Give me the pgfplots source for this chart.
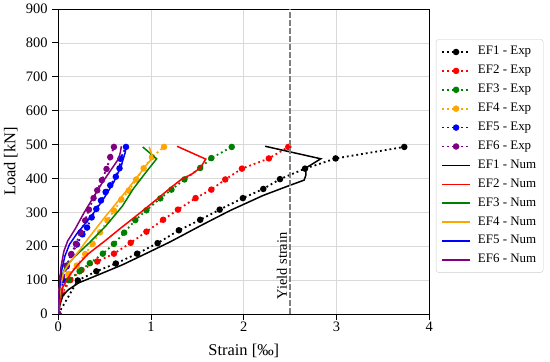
\documentclass[border=0pt]{standalone}
\usepackage{fontspec}
\setmainfont{Liberation Serif}
\usepackage{pgfplots}
\pgfplotsset{compat=1.18}
\definecolor{mplorange}{HTML}{FFA500}
\definecolor{mplgreen}{HTML}{008000}
\definecolor{mplpurple}{HTML}{800080}
\newcommand{\fst}{\fontsize{14.5}{16}\selectfont}
\newcommand{\fsl}{\fontsize{16.5}{18}\selectfont}
\newcommand{\fsg}{\fontsize{13}{15}\selectfont}
\begin{document}
\begin{tikzpicture}
\useasboundingbox (0,0) rectangle (550bp,362bp);
\begin{axis}[
 at={(58.3bp,48bp)}, anchor=south west,
 scale only axis, width=371bp, height=305bp,
 xmin=0,xmax=4,ymin=0,ymax=900,
 xtick={0,1,2,3,4}, ytick={0,100,...,900},
 grid=major, grid style={line width=0.7pt, draw=black!15},
 axis line style={line width=1pt},
 tick align=outside, tick pos=left, major tick length=6bp,
 tick style={line width=1pt, black},
 ticklabel style={font=\fst},
 xticklabel style={inner sep=1.5bp},
 yticklabel style={inner sep=4.5bp},
 /pgf/number format/assume math mode=true,
 xlabel={Strain [‰]}, ylabel={Load [kN]},
 label style={font=\fsl},
 xlabel style={at={(axis description cs:0.5,0)}, anchor=base, yshift=-41bp},
 ylabel style={at={(axis description cs:-0.1156,0.5)}, anchor=base},
 clip marker paths=true,
 legend style={at={(1.018,0.9007)}, anchor=north west, draw=black!20, rounded corners=2.5bp, font=\fsg, row sep=2.9bp, inner xsep=5bp, inner ysep=4.5bp,
   nodes={inner sep=2bp, text height=9bp, text depth=3bp},
   /tikz/every odd column/.append style={column sep=5bp}},
 legend cell align=left,
 legend image code/.code={\draw[mark repeat=2,mark phase=2] plot coordinates {(0bp,0bp)(14bp,0bp)(28bp,0bp)};},
 exp/.style={line width=1.8bp, dash pattern=on 1.8bp off 3bp, mark=*, mark size=2.3bp, mark options={solid}},
 num/.style={line width=1.5bp, solid, mark=none},
]
\addplot[exp, black] coordinates {(0,0)(0.21,99)(0.41,126)(0.62,149)(0.85,178)(1.07,209)(1.30,247)(1.53,278)(1.74,308)(1.99,342)(2.21,369)(2.39,398)(2.66,429)(2.99,459)(3.73,493)};
\addlegendentry{EF1 - Exp}
\addplot[exp, red] coordinates {(0,0)(0.04,60)(0.13,100)(0.25,130)(0.42,155)(0.60,178)(0.78,210)(0.95,243)(1.13,278)(1.29,308)(1.48,342)(1.65,367)(1.80,397)(1.98,429)(2.27,459)(2.48,493)};
\addlegendentry{EF2 - Exp}
\addplot[exp, mplgreen] coordinates {(0,0)(0.03,60)(0.11,100)(0.23,126)(0.34,150)(0.48,178)(0.60,207)(0.71,240)(0.83,277)(0.95,306)(1.10,341)(1.22,367)(1.36,397)(1.53,431)(1.65,460)(1.87,493)};
\addlegendentry{EF3 - Exp}
\addplot[exp, mplorange] coordinates {(0,0)(0.03,70)(0.11,118)(0.20,143)(0.29,177)(0.37,207)(0.45,241)(0.53,276)(0.60,305)(0.68,338)(0.76,364)(0.84,397)(0.92,430)(1.01,463)(1.14,493)};
\addlegendentry{EF4 - Exp}
\addplot[exp, blue] coordinates {(0,0)(0.02,60)(0.05,100)(0.09,140)(0.14,175)(0.20,205)(0.26,235)(0.31,255)(0.36,285)(0.41,310)(0.46,335)(0.51,360)(0.56,380)(0.62,405)(0.66,430)(0.67,458)(0.73,493)};
\addlegendentry{EF5 - Exp}
\addplot[exp, mplpurple] coordinates {(0,0)(0.02,60)(0.04,110)(0.09,143)(0.14,177)(0.19,207)(0.24,241)(0.29,276)(0.33,308)(0.38,342)(0.42,365)(0.47,395)(0.52,428)(0.56,463)(0.60,493)};
\addlegendentry{EF6 - Exp}
\addplot[num, black] coordinates {(0,0)(0.02,30)(0.05,55)(0.11,72)(0.22,92)(0.40,112)(0.69,145)(0.92,175)(1.20,212)(1.53,260)(1.85,305)(2.21,350)(2.50,380)(2.65,395)(2.67,410)(2.67,431)(2.83,458)(2.23,495)};
\addlegendentry{EF1 - Num}
\addplot[num, red] coordinates {(0,0)(0.02,40)(0.05,80)(0.13,118)(0.22,148)(0.32,177)(0.50,215)(0.68,255)(0.88,298)(1.06,338)(1.20,370)(1.33,398)(1.44,413)(1.53,431)(1.59,457)(1.28,495)};
\addlegendentry{EF2 - Num}
\addplot[num, mplgreen] coordinates {(0,0)(0.01,40)(0.02,81)(0.05,120)(0.08,140)(0.18,170)(0.33,209)(0.51,259)(0.69,318)(0.81,370)(0.95,420)(1.06,458)(0.91,493)};
\addlegendentry{EF3 - Num}
\addplot[num, mplorange] coordinates {(0,0)(0.01,40)(0.03,90)(0.06,125)(0.13,155)(0.22,185)(0.32,222)(0.50,285)(0.68,345)(0.84,400)(0.95,440)(1.02,461)(0.98,493)};
\addlegendentry{EF4 - Num}
\addplot[num, blue] coordinates {(0,0)(0.01,60)(0.03,120)(0.07,170)(0.12,205)(0.20,237)(0.30,270)(0.40,305)(0.50,345)(0.60,390)(0.68,438)(0.70,458)(0.72,475)(0.73,493)};
\addlegendentry{EF5 - Num}
\addplot[num, mplpurple] coordinates {(0,0)(0.01,80)(0.03,140)(0.06,185)(0.10,215)(0.18,250)(0.28,300)(0.38,345)(0.48,390)(0.58,430)(0.65,458)(0.67,478)(0.68,495)};
\addlegendentry{EF6 - Num}
\addplot[forget plot, gray, line width=1.5bp, dash pattern=on 5.5bp off 2.5bp] coordinates {(2.5,0)(2.5,900)};
\node[rotate=90, font=\fst] at (axis cs:2.41,142) {Yield strain};
\end{axis}
\end{tikzpicture}
\end{document}
